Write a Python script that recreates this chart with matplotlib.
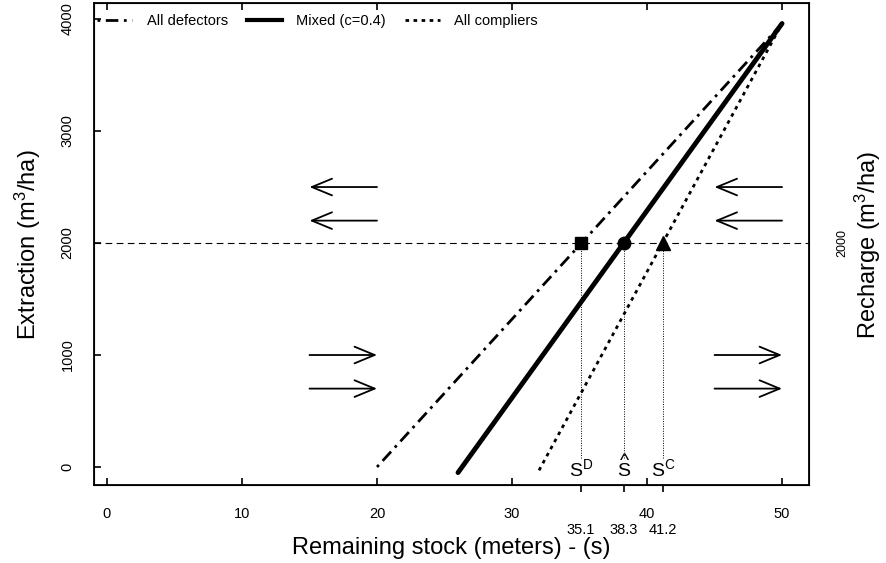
import matplotlib
matplotlib.use("Agg")
import matplotlib.pyplot as plt
from matplotlib.lines import Line2D

plt.rcParams['font.family'] = ['Liberation Sans', 'DejaVu Sans']
plt.rcParams['mathtext.fontset'] = 'custom'
plt.rcParams['mathtext.rm'] = 'Liberation Sans'
plt.rcParams['mathtext.it'] = 'Liberation Sans'

# extraction lines: remaining stock (s) vs extraction
defect_x = [20, 50]
defect_y = [0, 3960]
mixed_x = [26, 50]
mixed_y = [-50, 3960]
comply_x = [32, 50]
comply_y = [-30, 3960]

recharge = 2000
eq_stock = [35.1, 38.3, 41.2]
eq_names = [r'$\mathrm{S^{D}}$', '^\nS', r'$\mathrm{S^{C}}$']
eq_markers = ['s', 'o', '^']

# direction arrows (start x, end x, y)
left_arrows = [(20, 15, 2500), (20, 15, 2200), (50, 45, 2500), (50, 45, 2200)]
right_arrows = [(15, 20, 1000), (15, 20, 700), (45, 50, 1000), (45, 50, 700)]

xticks = [0, 10, 20, 30, 40, 50]
yticks = [0, 1000, 2000, 3000, 4000]

fig = plt.figure(figsize=(8.87, 5.63), dpi=100)
ax = fig.add_axes([0.106, 0.1385, 0.8055, 0.8555])

ax.plot(defect_x, defect_y, color='black', lw=2, dashes=(1, 2, 4.5, 2))
ax.plot(mixed_x, mixed_y, color='black', lw=3.5, solid_capstyle='round')
ax.plot(comply_x, comply_y, color='black', lw=2, dashes=(1.3, 1.6))

ax.axhline(recharge, color='black', lw=0.8, dashes=(6, 4))

for s, name, m in zip(eq_stock, eq_names, eq_markers):
    ax.plot([s, s], [80, recharge], color='black', lw=0.7, dashes=(1, 1.5))
    ax.plot(s, recharge, marker=m, color='black', ms=10 if m == '^' else 9)
    if '\n' in name:
        # hat drawn as a caret stacked over the S
        ax.text(s, -115, name, ha='center', va='bottom', fontsize=14,
                linespacing=0.42, multialignment='center')
    else:
        ax.text(s, -15, name, ha='center', va='center', fontsize=14)

arrow_kw = dict(arrowstyle='->,head_length=1.45,head_width=0.6',
                color='black', lw=1.3, mutation_scale=10, shrinkA=0, shrinkB=0)
for x0, x1, y in left_arrows + right_arrows:
    ax.annotate('', xy=(x1, y), xytext=(x0, y), arrowprops=arrow_kw)

ax.set_xlim(-0.96, 51.96)
ax.set_ylim(-161, 4140)

ax.set_xticks(xticks)
ax.set_xticks(eq_stock, minor=True)
ax.set_xticklabels([str(t) for t in xticks])
ax.set_xticklabels([str(s) for s in eq_stock], minor=True)
ax.set_yticks(yticks)
ax.set_yticklabels([str(t) for t in yticks])

ax.tick_params(which='major', direction='in', length=5, width=1.2,
               labelsize=10.5, top=True, pad=16)
ax.tick_params(axis='x', which='minor', direction='out', length=5, width=1.2,
               labelsize=10.5, top=False, pad=22)
ax.tick_params(axis='y', which='major', pad=14)
for lbl in ax.get_yticklabels():
    lbl.set_rotation(90)
    lbl.set_va('center')
for sp in ax.spines.values():
    sp.set_linewidth(1.3)

ax2 = ax.twinx()
ax2.set_ylim(ax.get_ylim())
ax2.set_yticks([recharge])
ax2.set_yticklabels([str(recharge)])
ax2.tick_params(length=0, labelsize=9, pad=20)
for lbl in ax2.get_yticklabels():
    lbl.set_rotation(90)
    lbl.set_va('center')

fig.text(0.5 * (94 + 808) / 887, 1 - 548 / 563, 'Remaining stock (meters) - (s)',
         ha='center', va='center', fontsize=17)
fig.text(28 / 887, 1 - 245 / 563, r'Extraction (m$^3$/ha)', rotation=90,
         ha='center', va='center', fontsize=17)
fig.text(868 / 887, 1 - 245 / 563, r'Recharge (m$^3$/ha)', rotation=90,
         ha='center', va='center', fontsize=17)

handles = [
    Line2D([], [], color='black', lw=2, dashes=(1, 2, 4.5, 2)),
    Line2D([], [], color='black', lw=3),
    Line2D([], [], color='black', lw=2, dashes=(1.3, 1.6)),
]
ax.legend(handles, ['All defectors', 'Mixed (c=0.4)', 'All compliers'],
          loc='upper left', bbox_to_anchor=(0, 0.983), ncol=3, frameon=False,
          fontsize=10.5, handlelength=2.4, handletextpad=1.0,
          columnspacing=1.3, borderaxespad=0, borderpad=0.2)

fig.savefig('out.png', dpi=100)
